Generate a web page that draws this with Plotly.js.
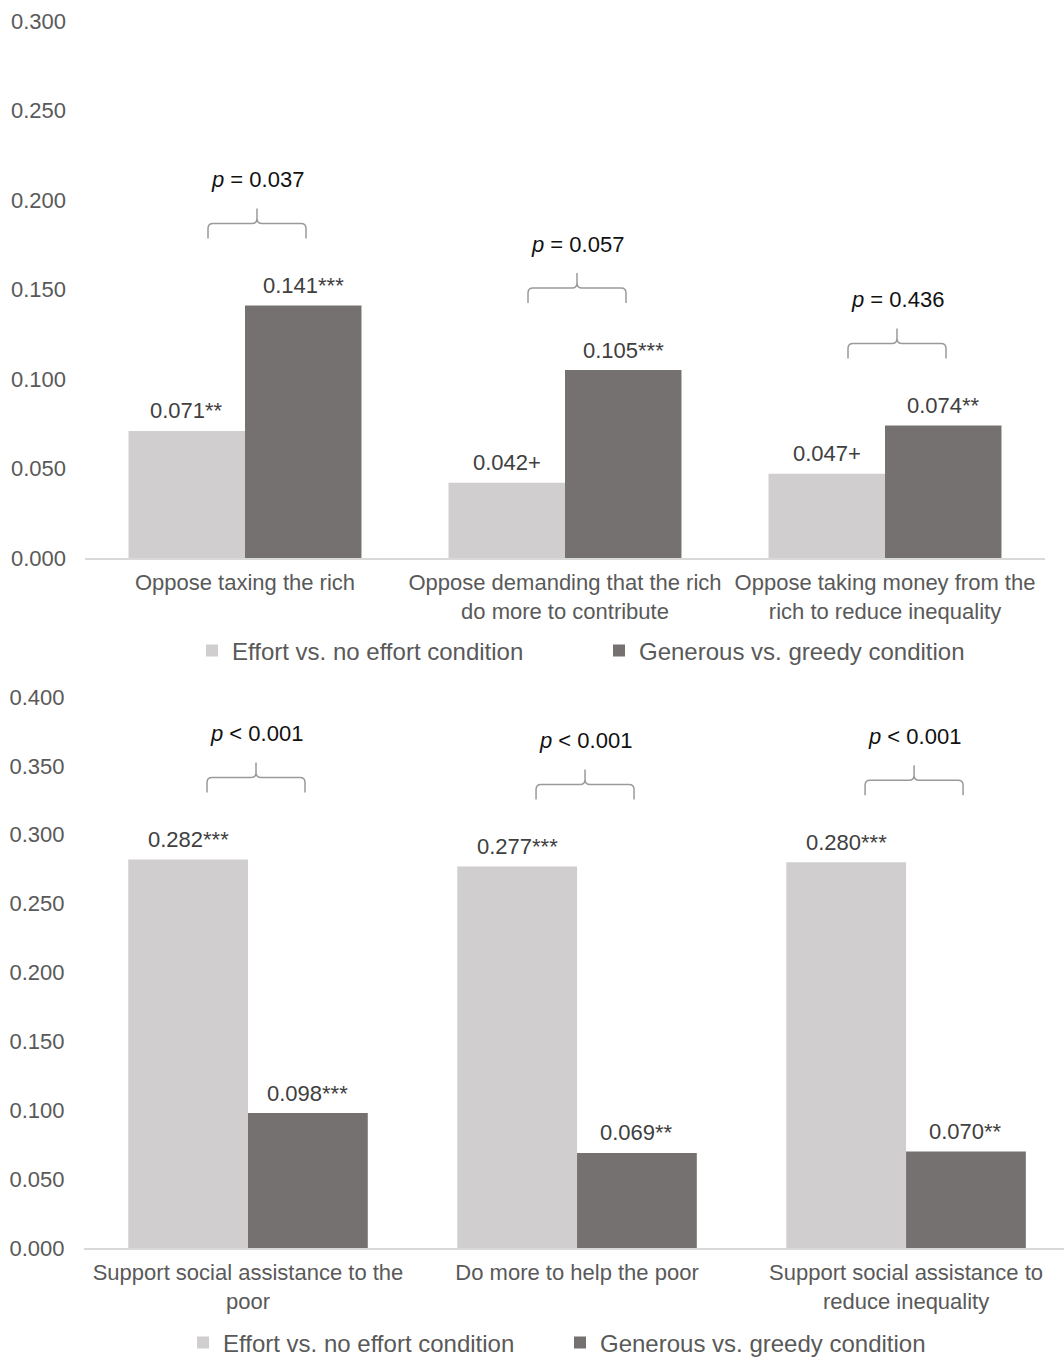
<!DOCTYPE html>
<html><head><meta charset="utf-8">
<script src="https://cdn.plot.ly/plotly-3.0.1.min.js"></script>
<style>html,body{margin:0;padding:0;background:#fff}#chart{width:1064px;height:1357px}</style>
</head><body><div id="chart"></div><script>
// ---- data ----
const seriesNames = ["Effort vs. no effort condition", "Generous vs. greedy condition"];

const topCategories = ["Oppose taxing the rich", "Oppose demanding that the rich<br>do more to contribute", "Oppose taking money from the<br>rich to reduce inequality"];
const topEffort = [0.071, 0.042, 0.047];
const topEffortSig = ["**", "+", "+"];
const topGenerous = [0.141, 0.105, 0.074];
const topGenerousSig = ["***", "***", "**"];
const topPValues = ["= 0.037", "= 0.057", "= 0.436"];
const topTicks = [0, 0.05, 0.1, 0.15, 0.2, 0.25, 0.3];

const bottomCategories = ["Support social assistance to the<br>poor", "Do more to help the poor", "Support social assistance to<br>reduce inequality"];
const bottomEffort = [0.282, 0.277, 0.280];
const bottomEffortSig = ["***", "***", "***"];
const bottomGenerous = [0.098, 0.069, 0.070];
const bottomGenerousSig = ["***", "**", "**"];
const bottomPValues = ["< 0.001", "< 0.001", "< 0.001"];
const bottomTicks = [0, 0.05, 0.1, 0.15, 0.2, 0.25, 0.3, 0.35, 0.4];

// ---- styling ----
const W = 1064, H = 1357;
const FONT = "Liberation Sans, Arial, sans-serif";
const LIGHT = "#d0cece", DARK = "#767171";
const GAP = 0.272;
const half = (1 - GAP) / 2;

const panels = [
  {cats: topCategories, e: topEffort, es: topEffortSig, g: topGenerous, gs: topGenerousSig, p: topPValues, ticks: topTicks,
   xa: "x", ya: "y", xdom: [85 / W, 1045 / W], xr: [-0.5, 2.5], ydom: [(H - 558) / H, (H - 21) / H], yr: [0, 0.3], legend: "legend", bx: 12},
  {cats: bottomCategories, e: bottomEffort, es: bottomEffortSig, g: bottomGenerous, gs: bottomGenerousSig, p: bottomPValues, ticks: bottomTicks,
   xa: "x2", ya: "y2", xdom: [83.5 / W, 1], xr: [-0.5, 2.48], ydom: [(H - 1248) / H, (H - 697) / H], yr: [0, 0.4], legend: "legend2", bx: 8}
];

const traces = [], annotations = [], shapes = [];
const layout = {
  width: W, height: H, margin: {l: 0, r: 0, t: 0, b: 0, autoexpand: false},
  paper_bgcolor: "#fff", plot_bgcolor: "#fff",
  barmode: "group", bargap: GAP, bargroupgap: 0,
  font: {family: FONT, size: 22, color: "#595959"},
  showlegend: true,
  legend: {orientation: "h", x: 192 / W, xanchor: "left", y: (H - 651) / H, yanchor: "middle",
           font: {size: 24, color: "#595959"}, entrywidth: 362, bgcolor: "rgba(0,0,0,0)"},
  legend2: {orientation: "h", x: 183 / W, xanchor: "left", y: (H - 1343) / H, yanchor: "middle",
           font: {size: 24, color: "#595959"}, entrywidth: 332, bgcolor: "rgba(0,0,0,0)"}
};

panels.forEach((P, k) => {
  const xs = P.cats.map((c, i) => i);
  const sfx = k === 0 ? "" : "2";
  traces.push({type: "bar", x: xs, y: P.e, name: seriesNames[0], marker: {color: LIGHT},
    xaxis: P.xa, yaxis: P.ya, legend: P.legend, hoverinfo: "skip"});
  traces.push({type: "bar", x: xs, y: P.g, name: seriesNames[1], marker: {color: DARK},
    xaxis: P.xa, yaxis: P.ya, legend: P.legend, hoverinfo: "skip"});

  layout["xaxis" + sfx] = {domain: P.xdom, range: P.xr, anchor: P.ya, tickvals: xs, ticktext: P.cats,
    showline: true, linecolor: "#d9d9d9", linewidth: 1.5, showgrid: false, zeroline: false, ticks: "",
    tickfont: {size: 22, color: "#595959"}, ticklabelstandoff: 4, automargin: false, fixedrange: true};
  layout["yaxis" + sfx] = {domain: P.ydom, range: P.yr, anchor: P.xa, tickvals: P.ticks, tickformat: ".3f",
    showline: false, showgrid: false, zeroline: false, ticks: "",
    tickfont: {size: 22, color: "#595959"}, ticklabelstandoff: 18, automargin: false, fixedrange: true};

  // pixel -> data conversion
  const pxX = (P.xdom[1] - P.xdom[0]) * W / (P.xr[1] - P.xr[0]);
  const pxY = (P.ydom[1] - P.ydom[0]) * H / (P.yr[1] - P.yr[0]);
  const ux = v => v / pxX, uy = v => v / pxY;

  xs.forEach(i => {
    annotations.push({xref: P.xa, yref: P.ya, x: i - half / 2, y: P.e[i], yanchor: "middle", yshift: 20,
      text: P.e[i].toFixed(3) + P.es[i], showarrow: false, font: {size: 22, color: "#404040"}});
    annotations.push({xref: P.xa, yref: P.ya, x: i + half / 2, y: P.g[i], yanchor: "middle", yshift: 20,
      text: P.g[i].toFixed(3) + P.gs[i], showarrow: false, font: {size: 22, color: "#404040"}});

    const cx = i + ux(P.bx);
    const x0 = cx - ux(49), x1 = cx + ux(49);
    const base = Math.max(P.e[i], P.g[i]) + uy(67);
    const yH = base + uy(15), yTip = base + uy(30);
    const r = ux(5), rv = uy(5);
    const path = `M${x0},${base} L${x0},${yH - rv} Q${x0},${yH} ${x0 + r},${yH} L${cx - r},${yH} Q${cx},${yH} ${cx},${yH + rv} L${cx},${yTip} ` +
                 `L${cx},${yH + rv} Q${cx},${yH} ${cx + r},${yH} L${x1 - r},${yH} Q${x1},${yH} ${x1},${yH - rv} L${x1},${base}`;
    shapes.push({type: "path", xref: P.xa, yref: P.ya, path: path, line: {color: "#9a9a9a", width: 1.5}});
    annotations.push({xref: P.xa, yref: P.ya, x: cx, y: base, yanchor: "middle", yshift: 59,
      text: "<i>p</i> " + P.p[i], showarrow: false, font: {size: 22, color: "#111111"}});
  });
});

layout.annotations = annotations;
layout.shapes = shapes;
Plotly.newPlot("chart", traces, layout, {staticPlot: true, displayModeBar: false});
</script></body></html>
